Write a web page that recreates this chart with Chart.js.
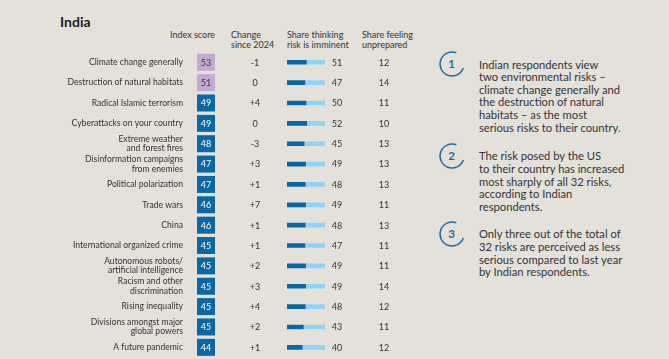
<!DOCTYPE html>
<html>
<head>
<meta charset="utf-8">
<script src="https://cdn.jsdelivr.net/npm/chart.js@4.4.1/dist/chart.umd.min.js"></script>
<style>
  body { margin: 0; background: #e4e1db; width: 669px; height: 359px; overflow: hidden; font-family: Lato, "Noto Sans", sans-serif; color: #333; }
  #wrap { position: absolute; left: 0; top: 0; width: 420px; height: 359px; }
  .title { position: absolute; left: 60px; top: 15px; font-size: 14px; line-height: 14px; font-weight: bold; color: #222; }
  .hdr { position: absolute; top: 30px; font-size: 9px; line-height: 10px; color: #333; }
  .note { position: absolute; left: 479px; width: 190px; font-size: 11.2px; line-height: 12.6px; color: #333; }
  .num { position: absolute; left: 437px; width: 30px; height: 30px; }
</style>
</head>
<body>
<div class="title">India</div>
<div class="hdr" style="left:150px;width:65px;text-align:right">Index score</div>
<div class="hdr" style="left:231px">Change<br>since 2024</div>
<div class="hdr" style="left:287px">Share thinking<br>risk is imminent</div>
<div class="hdr" style="left:362px">Share feeling<br>unprepared</div>

<div id="wrap"><canvas id="chart" width="420" height="359"></canvas></div>

<svg class="num" style="top:49px" viewBox="0 0 30 30"><path d="M19.3 3.8 A12 12 0 1 0 26.3 19.1" fill="none" stroke="#1b6fa8" stroke-width="1.5"/><text x="14.5" y="19" text-anchor="middle" font-family="Lato" font-weight="bold" font-size="11.5" fill="#1b6fa8">1</text></svg>
<div class="note" style="top:58.7px">Indian respondents view<br>two environmental risks –<br>climate change generally and<br>the destruction of natural<br>habitats – as the most<br>serious risks to their country.</div>

<svg class="num" style="top:141px" viewBox="0 0 30 30"><path d="M19.3 3.8 A12 12 0 1 0 26.3 19.1" fill="none" stroke="#1b6fa8" stroke-width="1.5"/><text x="14.5" y="19" text-anchor="middle" font-family="Lato" font-weight="bold" font-size="11.5" fill="#1b6fa8">2</text></svg>
<div class="note" style="top:150.4px">The risk posed by the US<br>to their country has increased<br>most sharply of all 32 risks,<br>according to Indian<br>respondents.</div>

<svg class="num" style="top:219px" viewBox="0 0 30 30"><path d="M19.3 3.8 A12 12 0 1 0 26.3 19.1" fill="none" stroke="#1b6fa8" stroke-width="1.5"/><text x="14.5" y="19" text-anchor="middle" font-family="Lato" font-weight="bold" font-size="11.5" fill="#1b6fa8">3</text></svg>
<div class="note" style="top:228.4px">Only three out of the total of<br>32 risks are perceived as less<br>serious compared to last year<br>by Indian respondents.</div>

<script>
const risks = [
  "Climate change generally",
  "Destruction of natural habitats",
  "Radical Islamic terrorism",
  "Cyberattacks on your country",
  ["Extreme weather", "and forest fires"],
  ["Disinformation campaigns", "from enemies"],
  "Political polarization",
  "Trade wars",
  "China",
  "International organized crime",
  ["Autonomous robots/", "artificial intelligence"],
  ["Racism and other", "discrimination"],
  "Rising inequality",
  ["Divisions amongst major", "global powers"],
  "A future pandemic"
];
const indexScore = [53, 51, 49, 49, 48, 47, 47, 46, 46, 45, 45, 45, 45, 45, 44];
const changeSince2024 = [-1, 0, 4, 0, -3, 3, 1, 7, 1, 1, 2, 3, 4, 2, 1];
const imminent = [51, 47, 50, 52, 45, 49, 48, 49, 48, 47, 49, 49, 48, 43, 40];
const unprepared = [12, 14, 11, 10, 13, 13, 13, 11, 13, 11, 11, 14, 12, 11, 12];
const highlighted = [1, 1, 0, 0, 0, 0, 0, 0, 0, 0, 0, 0, 0, 0, 0]; // the two environmental risks

const BLUE = "#0b67a4";
const LIGHT = "#92d3f3";
const PURPLE = "#c4aad0";

// text columns and index boxes, placed on the rows of the y scale
const columns = {
  id: "columns",
  afterDatasetsDraw(chart) {
    const { ctx, chartArea, scales } = chart;
    const left = chartArea.left, right = chartArea.right;
    ctx.save();
    ctx.font = "9px Lato";
    ctx.textAlign = "center";
    ctx.textBaseline = "middle";
    for (let i = 0; i < risks.length; i++) {
      const y = scales.y.getPixelForValue(i);
      ctx.fillStyle = highlighted[i] ? PURPLE : BLUE;
      ctx.fillRect(left - 90, y - 8.5, 18, 17);
      ctx.fillStyle = highlighted[i] ? "#3a3a3a" : "#fff";
      ctx.fillText(indexScore[i], left - 81, y + 0.5);
      ctx.fillStyle = "#333";
      let c = changeSince2024[i];
      ctx.fillText(c > 0 ? "+" + c : String(c), left - 32, y + 0.5);
      ctx.fillText(imminent[i], right + 12, y + 0.5);
      ctx.fillText(unprepared[i], right + 59, y + 0.5);
    }
    ctx.restore();
  }
};

new Chart(document.getElementById("chart"), {
  type: "bar",
  data: {
    labels: risks,
    datasets: [
      { data: imminent, backgroundColor: BLUE, barThickness: 4, stack: "s" },
      { data: imminent.map(v => 100 - v), backgroundColor: LIGHT, barThickness: 4, stack: "s" }
    ]
  },
  options: {
    indexAxis: "y",
    responsive: false,
    animation: false,
    layout: { padding: { top: 52.1, bottom: 1.5, left: 0, right: 95 } },
    plugins: { legend: { display: false }, tooltip: { enabled: false } },
    scales: {
      x: { stacked: true, min: 0, max: 100, display: false },
      y: {
        stacked: true,
        grid: { display: false, drawTicks: false },
        border: { display: false },
        ticks: { autoSkip: false, padding: 104, color: "#333", font: { family: "Lato", size: 8.6, lineHeight: 1.08 } },
        afterFit: s => {
          s.width = 287;
          // the big tick padding is only meant sideways
          s.paddingTop = 0;
          s.paddingBottom = 0;
        }
      }
    }
  },
  plugins: [columns]
});
</script>
</body>
</html>
